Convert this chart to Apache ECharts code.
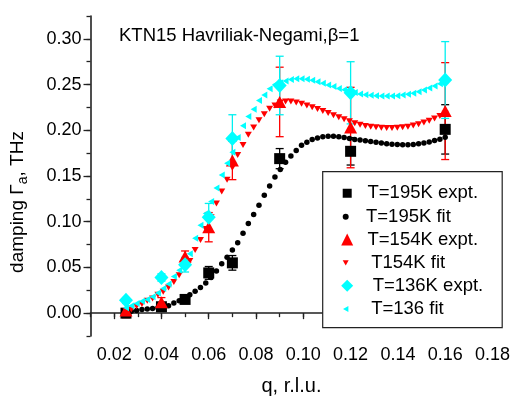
<!DOCTYPE html>
<html>
<head>
<meta charset="utf-8">
<script src="https://cdn.jsdelivr.net/npm/echarts@6/dist/echarts.min.js"></script>
<style>
  html, body { margin: 0; padding: 0; background: #fff; }
  #chart { width: 513px; height: 402px; }
</style>
</head>
<body>
<div id="chart"></div>
<script>
// Measured damping, q in r.l.u.
const expQ = [0.025, 0.04, 0.05, 0.06, 0.07, 0.09, 0.12, 0.16];
const exp195 = [0.000, 0.007, 0.015, 0.044, 0.055, 0.169, 0.177, 0.201];
const err195 = [0.002, 0.003, 0.003, 0.007, 0.008, 0.011, 0.015, 0.027];
const exp154 = [0.003, 0.012, 0.062, 0.094, 0.167, 0.231, 0.203, 0.221];
const err154 = [0.008, 0.005, 0.006, 0.016, 0.021, 0.038, 0.044, 0.053];
const exp136 = [0.014, 0.039, 0.053, 0.105, 0.191, 0.249, 0.241, 0.255];
const err136 = [0.003, 0.004, 0.008, 0.015, 0.026, 0.032, 0.034, 0.042];

// Havriliak-Negami fit curves (beta = 1)
const fitQ = [
  0.025, 0.02725, 0.0295, 0.03175, 0.034, 0.03625, 0.0385, 0.04075, 0.043, 0.04525,
  0.0475, 0.04975, 0.052, 0.05425, 0.0565, 0.05875, 0.061, 0.06325, 0.0655, 0.06775,
  0.07, 0.07225, 0.0745, 0.07675, 0.079, 0.08125, 0.0835, 0.08575, 0.088, 0.09025,
  0.0925, 0.09475, 0.097, 0.09925, 0.1015, 0.10375, 0.106, 0.10825, 0.1105, 0.11275,
  0.115, 0.11725, 0.1195, 0.12175, 0.124, 0.12625, 0.1285, 0.13075, 0.133, 0.13525,
  0.1375, 0.13975, 0.142, 0.14425, 0.1465, 0.14875, 0.151, 0.15325, 0.1555, 0.15775,
  0.16
];
const fit195 = [
  0.000, 0.002, 0.003, 0.004, 0.0045, 0.005, 0.006, 0.007, 0.008, 0.011,
  0.0135, 0.0165, 0.020, 0.024, 0.028, 0.033, 0.039, 0.046, 0.054, 0.061,
  0.069, 0.077, 0.0875, 0.098, 0.108, 0.118, 0.129, 0.139, 0.149, 0.157,
  0.165, 0.172, 0.178, 0.1835, 0.187, 0.190, 0.1915, 0.193, 0.1935, 0.1935,
  0.193, 0.192, 0.191, 0.190, 0.1893, 0.1885, 0.1877, 0.1868, 0.186, 0.1853,
  0.1848, 0.1845, 0.1843, 0.1843, 0.1845, 0.1852, 0.186, 0.1872, 0.1887, 0.1903,
  0.1925
];
const fit154 = [
  0.002, 0.004, 0.0075, 0.010, 0.0135, 0.016, 0.020, 0.0235, 0.028, 0.034,
  0.0415, 0.049, 0.057, 0.069, 0.080, 0.092, 0.105, 0.120, 0.133, 0.146,
  0.159, 0.173, 0.184, 0.195, 0.203, 0.211, 0.2175, 0.2235, 0.227, 0.2305,
  0.2315, 0.2315, 0.2305, 0.229, 0.227, 0.2253, 0.2232, 0.221, 0.2188, 0.2165,
  0.2143, 0.212, 0.2098, 0.2078, 0.206, 0.2048, 0.2038, 0.2032, 0.2027, 0.2025,
  0.2025, 0.2027, 0.2032, 0.204, 0.2052, 0.2067, 0.2085, 0.2105, 0.213, 0.2155,
  0.218
];
const fit136 = [
  0.006, 0.008, 0.0105, 0.013, 0.015, 0.018, 0.022, 0.027, 0.032, 0.040,
  0.047, 0.055, 0.065, 0.082, 0.096, 0.109, 0.122, 0.137, 0.151, 0.164,
  0.176, 0.192, 0.205, 0.215, 0.223, 0.2325, 0.2385, 0.2455, 0.250, 0.252,
  0.254, 0.2555, 0.2563, 0.2563, 0.2557, 0.2547, 0.2532, 0.2515, 0.2495, 0.2478,
  0.2458, 0.2442, 0.2428, 0.2412, 0.2398, 0.239, 0.2383, 0.2378, 0.2375, 0.2374,
  0.2375, 0.2378, 0.2385, 0.2394, 0.2406, 0.2422, 0.244, 0.2462, 0.2485, 0.251,
  0.2545
];

// Axis labels
const xTicks = [0.02, 0.04, 0.06, 0.08, 0.10, 0.12, 0.14, 0.16, 0.18];
const yTicks = [0.00, 0.05, 0.10, 0.15, 0.20, 0.25, 0.30];

const names = {
  e195: 'T=195K expt.', f195: 'T=195K fit',
  e154: 'T=154K expt.', f154: ' T154K fit',
  e136: ' T=136K expt.', f136: ' T=136 fit'
};

const FONT = 'Liberation Sans, Arial, sans-serif';
const AXIS_COLOR = '#222';
const DOWN_TRI = 'path://M0,0L10,0L5,9Z';
const LEFT_TRI = 'path://M9,0L9,10L0,5Z';

const zip = (xs, ys) => xs.map((x, i) => [x, ys[i]]);
const bars = (xs, ys, es) => xs.map((x, i) => [x, ys[i] - es[i], ys[i] + es[i]]);

function errorBars(name, color, data) {
  return {
    type: 'custom',
    name: name + ' err',
    data: data,
    encode: { x: 0, y: [1, 2] },
    renderItem: function (params, api) {
      const top = api.coord([api.value(0), api.value(2)]);
      const bot = api.coord([api.value(0), api.value(1)]);
      const hw = 4;
      const style = { stroke: color, lineWidth: 1.3 };
      return {
        type: 'group',
        children: [
          { type: 'line', shape: { x1: top[0], y1: top[1], x2: bot[0], y2: bot[1] }, style: style },
          { type: 'line', shape: { x1: top[0] - hw, y1: top[1], x2: top[0] + hw, y2: top[1] }, style: style },
          { type: 'line', shape: { x1: bot[0] - hw, y1: bot[1], x2: bot[0] + hw, y2: bot[1] }, style: style }
        ]
      };
    }
  };
}

function points(name, data, symbol, size, color) {
  return {
    type: 'scatter', name: name, data: data,
    symbol: symbol, symbolSize: size,
    itemStyle: { color: color, opacity: 1 }
  };
}

const chart = echarts.init(document.getElementById('chart'), null, { renderer: 'canvas' });

const baseX = { type: 'value', min: 0.01, max: 0.18, interval: 0.01, splitLine: { show: false } };
const baseY = { type: 'value', min: -0.025, max: 0.325, interval: 0.025, splitLine: { show: false } };
const legendText = { fontFamily: FONT, fontSize: 18.5, lineHeight: 20, color: '#000' };

chart.setOption({
  animation: false,
  backgroundColor: '#fff',
  textStyle: { fontFamily: FONT, color: '#000' },
  title: {
    text: 'KTN15 Havriliak-Negami,β=1',
    left: 119, top: 26, padding: 0,
    textStyle: { fontFamily: FONT, fontSize: 18.5, fontWeight: 'normal', color: '#000' }
  },
  grid: { left: 86, right: 18, top: 16, bottom: 66 },
  xAxis: [
    Object.assign({}, baseX, {
      position: 'bottom',
      name: 'q, r.l.u.',
      nameLocation: 'middle',
      nameGap: 40,
      nameTextStyle: { fontFamily: FONT, fontSize: 20, color: '#000' },
      axisLine: { show: true, lineStyle: { color: AXIS_COLOR, width: 1.6 } },
      axisTick: { show: true, customValues: xTicks, length: 6, lineStyle: { color: AXIS_COLOR, width: 1.3 } },
      axisLabel: {
        customValues: xTicks, margin: 10, fontSize: 18, color: '#000', fontFamily: FONT,
        formatter: v => v.toFixed(2)
      }
    }),
    Object.assign({}, baseX, {
      position: 'bottom', offset: 0,
      axisLine: { show: false },
      axisTick: { show: true, length: 4, lineStyle: { color: AXIS_COLOR, width: 1.3 } },
      axisLabel: { show: false }
    })
  ],
  yAxis: [
    Object.assign({}, baseY, {
      position: 'left',
      name: '{n|damping Γ}{s|a}{n|, THz}',
      nameLocation: 'middle',
      nameGap: 60,
      nameTextStyle: {
        fontFamily: FONT, color: '#000', padding: [0, 52, 0, 0],
        rich: {
          n: { fontFamily: FONT, fontSize: 19, lineHeight: 26, color: '#000' },
          s: { fontFamily: FONT, fontSize: 14, lineHeight: 14, verticalAlign: 'bottom', color: '#000' }
        }
      },
      axisLine: { show: true, lineStyle: { color: AXIS_COLOR, width: 1.6 } },
      axisTick: { show: true, customValues: yTicks, length: 7, lineStyle: { color: AXIS_COLOR, width: 1.3 } },
      axisLabel: {
        customValues: yTicks, margin: 9, fontSize: 18, color: '#000', fontFamily: FONT,
        formatter: v => v.toFixed(2)
      }
    }),
    Object.assign({}, baseY, {
      position: 'left', offset: 0,
      axisLine: { show: false },
      axisTick: { show: true, length: 4, lineStyle: { color: AXIS_COLOR, width: 1.3 } },
      axisLabel: { show: false }
    })
  ],
  legend: [
    {
      // experimental entries, drawn with the frame around the whole key
      data: [
        { name: names.e195, itemStyle: { borderColor: '#fff', borderWidth: 3 } },
        { name: names.e154 },
        { name: names.e136 }
      ],
      orient: 'vertical', left: 322.7, top: 171.7,
      padding: [11.6, 19, 32, 17],
      itemWidth: 12, itemHeight: 12, itemGap: 26.2,
      selectedMode: false,
      borderColor: '#222', borderWidth: 1.2, backgroundColor: '#fff',
      textStyle: Object.assign({ padding: [0, 0, 0, 9.3] }, legendText),
      z: 4
    },
    {
      // fit entries, interleaved between the experimental rows
      data: [names.f195, names.f154, names.f136],
      orient: 'vertical', left: 342.7, top: 206.7,
      padding: 0,
      itemWidth: 6, itemHeight: 6, itemGap: 26.2,
      selectedMode: false,
      textStyle: Object.assign({ padding: [0, 0, 0, 12.3] }, legendText),
      z: 6
    }
  ],
  series: [
    errorBars(names.e195, '#000', bars(expQ, exp195, err195)),
    points(names.e195, zip(expQ, exp195), 'rect', 11, '#000'),
    points(names.f195, zip(fitQ, fit195), 'circle', 5.5, '#000'),
    errorBars(names.e154, '#ff0000', bars(expQ, exp154, err154)),
    points(names.e154, zip(expQ, exp154), 'triangle', [13, 12], '#ff0000'),
    points(names.f154, zip(fitQ, fit154), DOWN_TRI, [7, 6], '#ff0000'),
    errorBars(names.e136, '#00f0f0', bars(expQ, exp136, err136)),
    points(names.e136, zip(expQ, exp136), 'diamond', [14, 15], '#00ffff'),
    points(names.f136, zip(fitQ, fit136), LEFT_TRI, [6, 7], '#00ffff')
  ]
});
</script>
</body>
</html>
